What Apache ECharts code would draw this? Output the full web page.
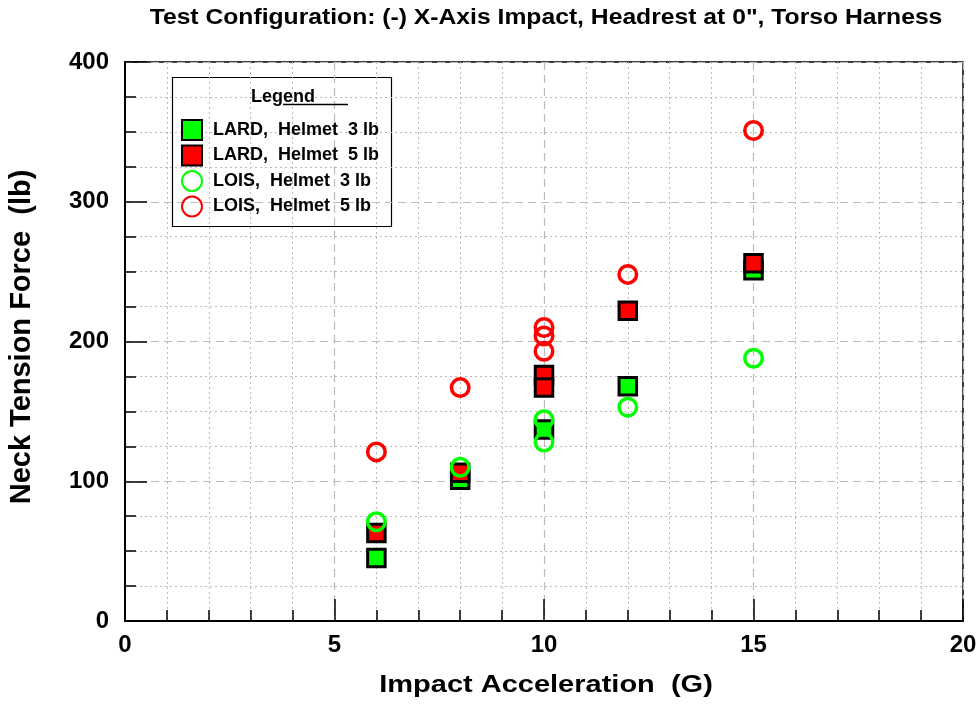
<!DOCTYPE html>
<html><head><meta charset="utf-8">
<script src="https://cdn.jsdelivr.net/npm/echarts@6/dist/echarts.min.js"></script>
<style>html,body{margin:0;padding:0;background:#fff}#c{width:980px;height:704px}</style>
</head><body><div id="c"></div>
<script>
const titleText = 'Test Configuration: (-) X-Axis Impact, Headrest at 0", Torso Harness';
const xTitle = 'Impact Acceleration  (G)';
const yTitle = 'Neck Tension Force  (lb)';
const legendTitle = 'Legend';
const seriesNames = ['LARD,  Helmet  3 lb','LARD,  Helmet  5 lb','LOIS,  Helmet  3 lb','LOIS,  Helmet  5 lb'];
const lard3 = [[6,45],[8,101],[10,137],[12,168],[15,251]];
const lard5 = [[6,63],[8,106],[10,176],[10,167],[12,222],[15,256]];
const lois3 = [[6,71],[8,110],[10,144],[10,128],[12,153],[15,188]];
const lois5 = [[6,121],[8,167],[10,210],[10,204],[10,193],[12,248],[15,351]];

const FONT = '"Liberation Sans", Arial, sans-serif';
const chart = echarts.init(document.getElementById('c'), null, {renderer:'canvas'});
const sq = (name, data, color) => ({
  name, type:'scatter', data, symbol:'rect', symbolSize:17.5,
  itemStyle:{color, borderColor:'#000', borderWidth:3, opacity:1}
});
const ci = (name, data, color) => ({
  name, type:'scatter', data, symbol:'circle', symbolSize:17.5,
  itemStyle:{color:'rgba(255,255,255,0)', borderColor:color, borderWidth:3.5, opacity:1}
});
chart.setOption({
  animation:false,
  backgroundColor:'#fff',
  grid:{left:125, right:17, top:62, bottom:83, show:true, borderColor:'#000', borderWidth:1.5, containLabel:false},
  legend:{
    orient:'vertical', left:176, top:114, itemGap:3.5, itemWidth:20, itemHeight:20,
    data:seriesNames,
    textStyle:{fontFamily:FONT, fontWeight:'bold', fontSize:18, color:'#000', padding:[0,0,0,6]},
    selectedMode:false
  },
  xAxis:{
    type:'value', min:0, max:20, interval:5,
    axisLine:{show:true, onZero:false, lineStyle:{color:'#000', width:2}},
    axisTick:{show:true, inside:true, length:22, lineStyle:{color:'#000', width:1.5}},
    minorTick:{show:true, splitNumber:5, length:11, lineStyle:{color:'#000', width:1.5}},
    axisLabel:{fontFamily:FONT, fontWeight:'bold', fontSize:24, color:'#000', margin:12},
    splitLine:{show:true, lineStyle:{color:'#bbb', type:[8,5], width:1.2}},
    minorSplitLine:{show:true, lineStyle:{color:'#bbb', type:[2,3], width:1}}
  },
  yAxis:{
    type:'value', min:0, max:400, interval:100,
    axisLine:{show:true, onZero:false, lineStyle:{color:'#000', width:2}},
    axisTick:{show:true, inside:true, length:22, lineStyle:{color:'#000', width:1.5}},
    minorTick:{show:true, splitNumber:4, length:11, lineStyle:{color:'#000', width:1.5}},
    axisLabel:{fontFamily:FONT, fontWeight:'bold', fontSize:24, color:'#000', margin:16},
    splitLine:{show:true, lineStyle:{color:'#bbb', type:[8,5], width:1.2}},
    minorSplitLine:{show:true, lineStyle:{color:'#bbb', type:[2,3], width:1}}
  },
  graphic:[
    {type:'text', x:546, y:18, scaleY:0.9, style:{x:0, y:0, text:titleText, textAlign:'center', textVerticalAlign:'middle',
      fontFamily:FONT, fontWeight:'bold', fontSize:24.7, fill:'#000'}},
    {type:'text', x:546, y:686, scaleY:0.8, style:{x:0, y:0, text:xTitle, textAlign:'center', textVerticalAlign:'middle',
      fontFamily:FONT, fontWeight:'bold', fontSize:29, fill:'#000'}},
    {type:'text', x:22, y:337, rotation:Math.PI/2, style:{x:0, y:0, text:yTitle, textAlign:'center', textVerticalAlign:'middle',
      fontFamily:FONT, fontWeight:'bold', fontSize:29, fill:'#000'}},
    {type:'rect', z:0, shape:{x:172.5, y:77.5, width:219, height:149},
      style:{fill:'#fff', stroke:'#000', lineWidth:1.2}},
    {type:'text', z:1, style:{x:251, y:97, text:legendTitle, textVerticalAlign:'middle', fontFamily:FONT, fontWeight:'bold', fontSize:18, fill:'#000'}},
    {type:'line', z:1, shape:{x1:283, y1:104.5, x2:348, y2:104.5}, style:{stroke:'#000', lineWidth:1.5}}
  ],
  series:[
    sq(seriesNames[0], lard3, '#00ff00'),
    sq(seriesNames[1], lard5, '#ff0000'),
    ci(seriesNames[2], lois3, '#00ff00'),
    ci(seriesNames[3], lois5, '#ff0000')
  ]
});
</script></body></html>
